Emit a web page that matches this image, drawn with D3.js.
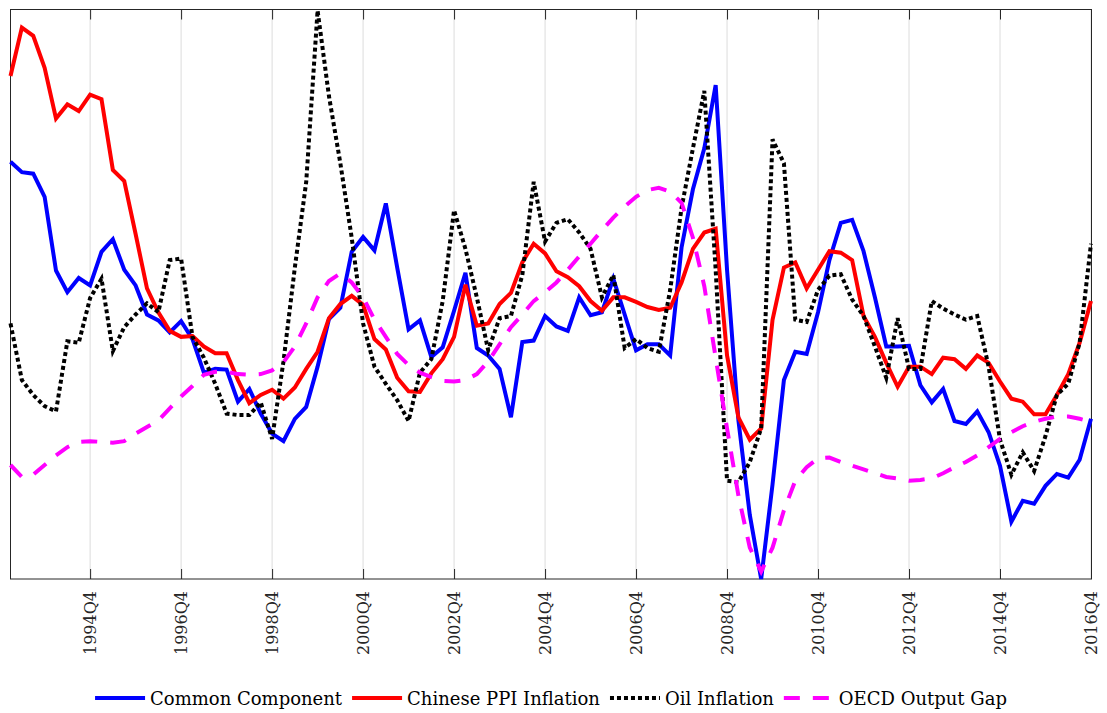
<!DOCTYPE html>
<html>
<head>
<meta charset="utf-8">
<script src="https://cdn.jsdelivr.net/npm/d3@7"></script>
<style>
  html, body { margin: 0; padding: 0; background: #fff; }
  svg { display: block; font-family: "DejaVu Serif", serif; }
</style>
</head>
<body>
<svg id="chart" width="1107" height="713"></svg>
<script>
// quarterly observations, 1993Q1 .. 2016Q4
const quarters = [];
for (let y = 1993; y <= 2016; y++) for (let q = 1; q <= 4; q++) quarters.push(y + "Q" + q);

const tickLabels = ["1994Q4", "1996Q4", "1998Q4", "2000Q4", "2002Q4", "2004Q4",
                    "2006Q4", "2008Q4", "2010Q4", "2012Q4", "2014Q4", "2016Q4"];

const commonComponent = [
  2.35, 2.21, 2.19, 1.88, 0.89, 0.60, 0.79, 0.69, 1.14, 1.31,
  0.90, 0.69, 0.30, 0.22, 0.06, 0.21, -0.03, -0.48, -0.43, -0.44,
  -0.87, -0.70, -1.03, -1.30, -1.40, -1.10, -0.94, -0.40, 0.24, 0.39,
  1.14, 1.34, 1.16, 1.79, 0.93, 0.10, 0.22, -0.27, -0.14, 0.35,
  0.86, -0.15, -0.25, -0.43, -1.08, -0.07, -0.05, 0.28, 0.14, 0.08,
  0.53, 0.29, 0.33, 0.78, 0.30, -0.18, -0.10, -0.10, -0.25, 1.20,
  1.98, 2.53, 3.38, 0.90, -1.12, -2.39, -3.25, -1.98, -0.58, -0.20,
  -0.23, 0.33, 1.03, 1.53, 1.57, 1.15, 0.53, -0.13, -0.13, -0.12,
  -0.65, -0.88, -0.70, -1.13, -1.17, -1.00, -1.28, -1.73, -2.48, -2.20,
  -2.24, -2.00, -1.84, -1.89, -1.65, -1.10
];

const ppiInflation = [
  3.50, 4.15, 4.04, 3.61, 2.93, 3.12, 3.03, 3.25, 3.19, 2.24,
  2.09, 1.38, 0.65, 0.33, 0.08, 0.00, 0.01, -0.13, -0.22, -0.22,
  -0.58, -0.89, -0.78, -0.71, -0.83, -0.68, -0.43, -0.20, 0.25, 0.44,
  0.55, 0.43, -0.03, -0.17, -0.55, -0.73, -0.74, -0.49, -0.30, 0.00,
  0.70, 0.15, 0.18, 0.44, 0.59, 1.00, 1.25, 1.12, 0.88, 0.80,
  0.68, 0.48, 0.35, 0.53, 0.53, 0.47, 0.40, 0.36, 0.39, 0.73,
  1.18, 1.40, 1.45, -0.25, -1.08, -1.38, -1.23, 0.23, 0.93, 1.00,
  0.65, 0.90, 1.15, 1.13, 1.03, 0.28, 0.00, -0.35, -0.67, -0.40,
  -0.40, -0.50, -0.28, -0.30, -0.43, -0.25, -0.35, -0.60, -0.83, -0.87,
  -1.04, -1.04, -0.78, -0.50, -0.08, 0.48
];

const oilInflation = [
  0.18, -0.58, -0.78, -0.93, -1.00, -0.06, -0.08, 0.52, 0.78, -0.19,
  0.13, 0.30, 0.45, 0.33, 1.03, 1.05, 0.00, -0.28, -0.63, -1.03,
  -1.05, -1.05, -0.88, -1.37, -0.33, 0.93, 2.08, 4.38, 3.23, 2.33,
  1.33, 0.18, -0.40, -0.63, -0.85, -1.13, -0.48, -0.30, 0.48, 1.70,
  1.18, 0.53, -0.18, 0.25, 0.28, 0.83, 2.08, 1.28, 1.53, 1.58,
  1.40, 1.18, 0.53, 0.83, -0.15, -0.03, -0.15, -0.20, 0.63, 1.73,
  2.53, 3.30, 0.90, -1.93, -1.95, -1.68, -1.23, 2.65, 2.33, 0.23,
  0.20, 0.63, 0.82, 0.84, 0.50, 0.28, -0.13, -0.55, 0.25, -0.43,
  -0.43, 0.48, 0.38, 0.30, 0.23, 0.28, -0.40, -1.38, -1.85, -1.55,
  -1.80, -1.33, -0.78, -0.63, -0.08, 1.25
];

const oecdGap = [
  -1.72, -1.88, -1.85, -1.72, -1.59, -1.48, -1.41, -1.40, -1.41, -1.42,
  -1.40, -1.30, -1.21, -1.12, -0.96, -0.80, -0.66, -0.51, -0.47, -0.47,
  -0.50, -0.51, -0.50, -0.45, -0.34, -0.13, 0.18, 0.53, 0.75, 0.85,
  0.73, 0.53, 0.23, 0.00, -0.23, -0.38, -0.48, -0.54, -0.59, -0.60,
  -0.58, -0.50, -0.33, -0.10, 0.13, 0.30, 0.48, 0.60, 0.73, 0.90,
  1.08, 1.25, 1.43, 1.60, 1.75, 1.88, 1.97, 2.00, 1.95, 1.80,
  1.33, 0.68, -0.28, -1.23, -2.13, -2.83, -3.15, -2.83, -2.33, -1.93,
  -1.75, -1.63, -1.62, -1.68, -1.73, -1.78, -1.83, -1.88, -1.90, -1.93,
  -1.92, -1.90, -1.83, -1.75, -1.68, -1.59, -1.48, -1.37, -1.28, -1.20,
  -1.14, -1.10, -1.07, -1.07, -1.10, -1.14
];

const series = [
  { name: "Common Component",      values: commonComponent, color: "#0000ff", dash: null },
  { name: "Chinese PPI Inflation", values: ppiInflation,    color: "#ff0000", dash: null },
  { name: "Oil Inflation",         values: oilInflation,    color: "#000000", dash: "4,3" },
  { name: "OECD Output Gap",       values: oecdGap,         color: "#ff00ff", dash: "16,13" }
];

const svg = d3.select("#chart");
const plot = { left: 10.5, right: 1091.5, top: 9.5, bottom: 579 };
const axisColor = "#262626";

const x = d3.scalePoint().domain(quarters).range([plot.left, plot.right - 0.5]);
const y = d3.scaleLinear().domain([-3.25, 4.4]).range([plot.bottom, plot.top - 0.5]);

// grid lines
svg.append("g")
  .selectAll("line")
  .data(tickLabels)
  .join("line")
  .attr("x1", d => x(d)).attr("x2", d => x(d))
  .attr("y1", plot.top).attr("y2", plot.bottom)
  .attr("stroke", "#dcdcdc").attr("stroke-width", 1);

// top / bottom ticks pointing inward
const bottomAxis = d3.axisBottom(x).tickValues(tickLabels).tickSize(-10).tickFormat("");
const topAxis = d3.axisTop(x).tickValues(tickLabels).tickSize(-10).tickFormat("");
svg.append("g").attr("transform", `translate(0,${plot.bottom})`).call(bottomAxis)
  .call(g => g.select(".domain").remove())
  .call(g => g.selectAll("line").attr("stroke", axisColor));
svg.append("g").attr("transform", `translate(0,${plot.top})`).call(topAxis)
  .call(g => g.select(".domain").remove())
  .call(g => g.selectAll("line").attr("stroke", axisColor));

// rotated tick labels
svg.append("g")
  .selectAll("text")
  .data(tickLabels)
  .join("text")
  .attr("transform", d => `translate(${x(d)},${plot.bottom + 12}) rotate(-90)`)
  .attr("text-anchor", "end")
  .attr("dy", "0.35em")
  .attr("font-size", 16)
  .attr("fill", axisColor)
  .text(d => d);

// box
svg.append("rect")
  .attr("x", plot.left).attr("y", plot.top)
  .attr("width", plot.right - plot.left).attr("height", plot.bottom - plot.top)
  .attr("fill", "none").attr("stroke", axisColor).attr("stroke-width", 1);

// lines
const line = d3.line()
  .x((d, i) => x(quarters[i]))
  .y(d => y(d));

svg.append("g")
  .selectAll("path")
  .data(series)
  .join("path")
  .attr("d", s => line(s.values))
  .attr("fill", "none")
  .attr("stroke", s => s.color)
  .attr("stroke-width", 4)
  .attr("stroke-linejoin", "miter")
  .attr("stroke-dasharray", s => s.dash);

// legend, centred under the plot
const legend = svg.append("g");
const sampleLen = 50, sampleGap = 5, itemGap = 10, legendY = 698;
const items = legend.selectAll("g").data(series).join("g");
items.append("line")
  .attr("x1", 0).attr("x2", sampleLen)
  .attr("y1", legendY).attr("y2", legendY)
  .attr("stroke", s => s.color)
  .attr("stroke-width", 4)
  .attr("stroke-dasharray", s => s.dash);
items.append("text")
  .attr("x", sampleLen + sampleGap)
  .attr("y", legendY + 6.5)
  .attr("font-size", 18)
  .attr("fill", "#000")
  .text(s => s.name);

let offset = 0;
const widths = [];
items.each(function () {
  widths.push(sampleLen + sampleGap + d3.select(this).select("text").node().getComputedTextLength());
});
const total = d3.sum(widths) + itemGap * (widths.length - 1);
offset = (plot.left + plot.right) / 2 - total / 2;
items.attr("transform", (d, i) => {
  const t = `translate(${offset},0)`;
  offset += widths[i] + itemGap;
  return t;
});
</script>
</body>
</html>
